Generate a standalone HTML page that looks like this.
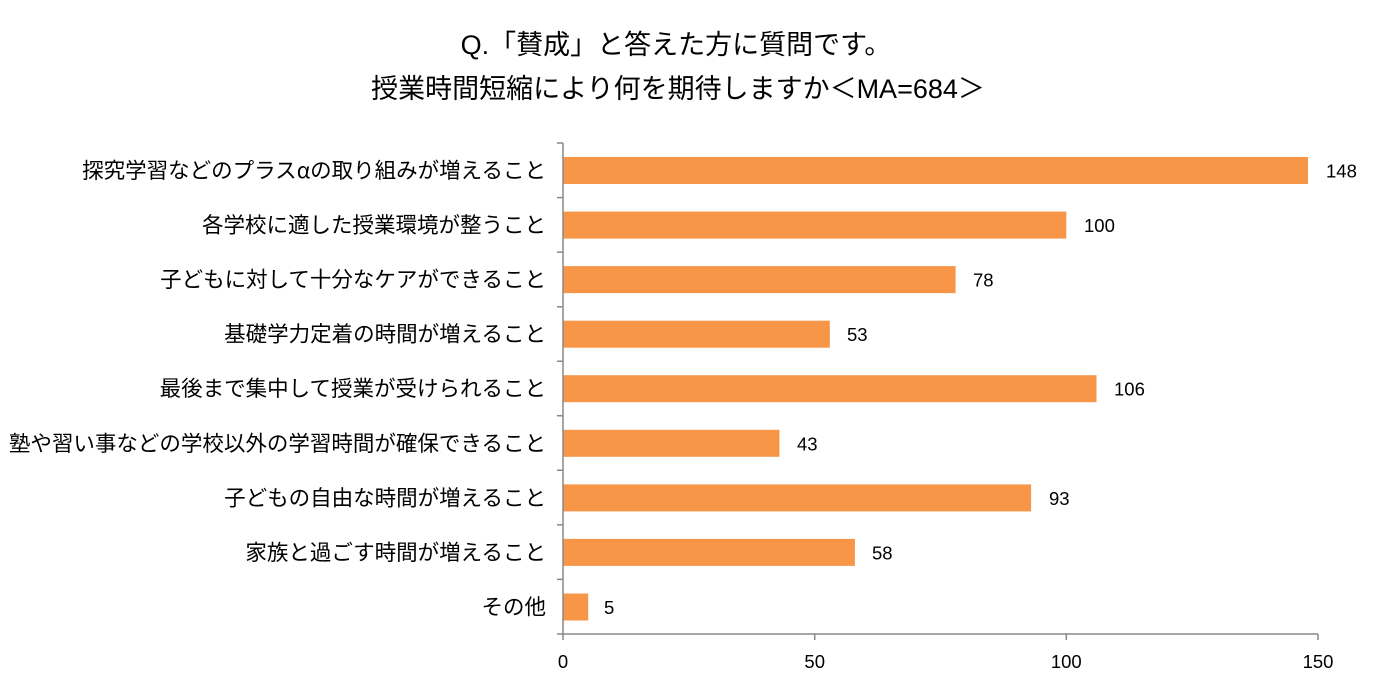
<!DOCTYPE html>
<html><head><meta charset="utf-8"><style>
body{margin:0;background:#fff;}
svg text{font-family:"Liberation Sans","Noto Sans CJK JP",sans-serif;fill:#000;}
</style></head><body>
<svg width="1376" height="687" viewBox="0 0 1376 687" xmlns="http://www.w3.org/2000/svg">
<text x="676" y="54" font-size="27" text-anchor="middle">Q.「賛成」と答えた方に質問です。</text>
<text x="678" y="98" font-size="27" text-anchor="middle">授業時間短縮により何を期待しますか＜MA=684＞</text>
<g fill="#F79646">
<rect x="563" y="157" width="745" height="27"/>
<rect x="563" y="211.6" width="503.3" height="27"/>
<rect x="563" y="266.1" width="392.6" height="27"/>
<rect x="563" y="320.7" width="266.8" height="27"/>
<rect x="563" y="375.2" width="533.5" height="27"/>
<rect x="563" y="429.8" width="216.4" height="27"/>
<rect x="563" y="484.4" width="468.1" height="27"/>
<rect x="563" y="538.9" width="291.9" height="27"/>
<rect x="563" y="593.5" width="25.2" height="27"/>
</g>
<g stroke="#888" stroke-width="1.5" fill="none">
<line x1="563" y1="143" x2="563" y2="634"/>
<line x1="563" y1="634" x2="1318" y2="634"/>
<path d="M557 143H563M557 197.6H563M557 252.1H563M557 306.7H563M557 361.2H563M557 415.8H563M557 470.3H563M557 524.9H563M557 579.4H563M557 634H563"/>
<path d="M563 634V640M814.7 634V640M1066.3 634V640M1318 634V640"/>
</g>
<g font-size="21.5" text-anchor="end">
<text x="546" y="178">探究学習などのプラス<tspan font-family="Noto Sans CJK JP">α</tspan>の取り組みが増えること</text>
<text x="546" y="232.6">各学校に適した授業環境が整うこと</text>
<text x="546" y="287.1">子どもに対して十分なケアができること</text>
<text x="546" y="341.7">基礎学力定着の時間が増えること</text>
<text x="546" y="396.2">最後まで集中して授業が受けられること</text>
<text x="546" y="450.8">塾や習い事などの学校以外の学習時間が確保できること</text>
<text x="546" y="505.4">子どもの自由な時間が増えること</text>
<text x="546" y="559.9">家族と過ごす時間が増えること</text>
<text x="546" y="614.5">その他</text>
</g>
<g font-size="18.5">
<text x="1326" y="177.5">148</text>
<text x="1084" y="232">100</text>
<text x="973" y="286.6">78</text>
<text x="847" y="341.2">53</text>
<text x="1114" y="395.7">106</text>
<text x="797" y="450.3">43</text>
<text x="1049" y="504.9">93</text>
<text x="872" y="559.4">58</text>
<text x="604" y="614">5</text>
</g>
<g font-size="18.5" text-anchor="middle">
<text x="563" y="668">0</text>
<text x="814.7" y="668">50</text>
<text x="1066.3" y="668">100</text>
<text x="1318" y="668">150</text>
</g>
</svg>
</body></html>
